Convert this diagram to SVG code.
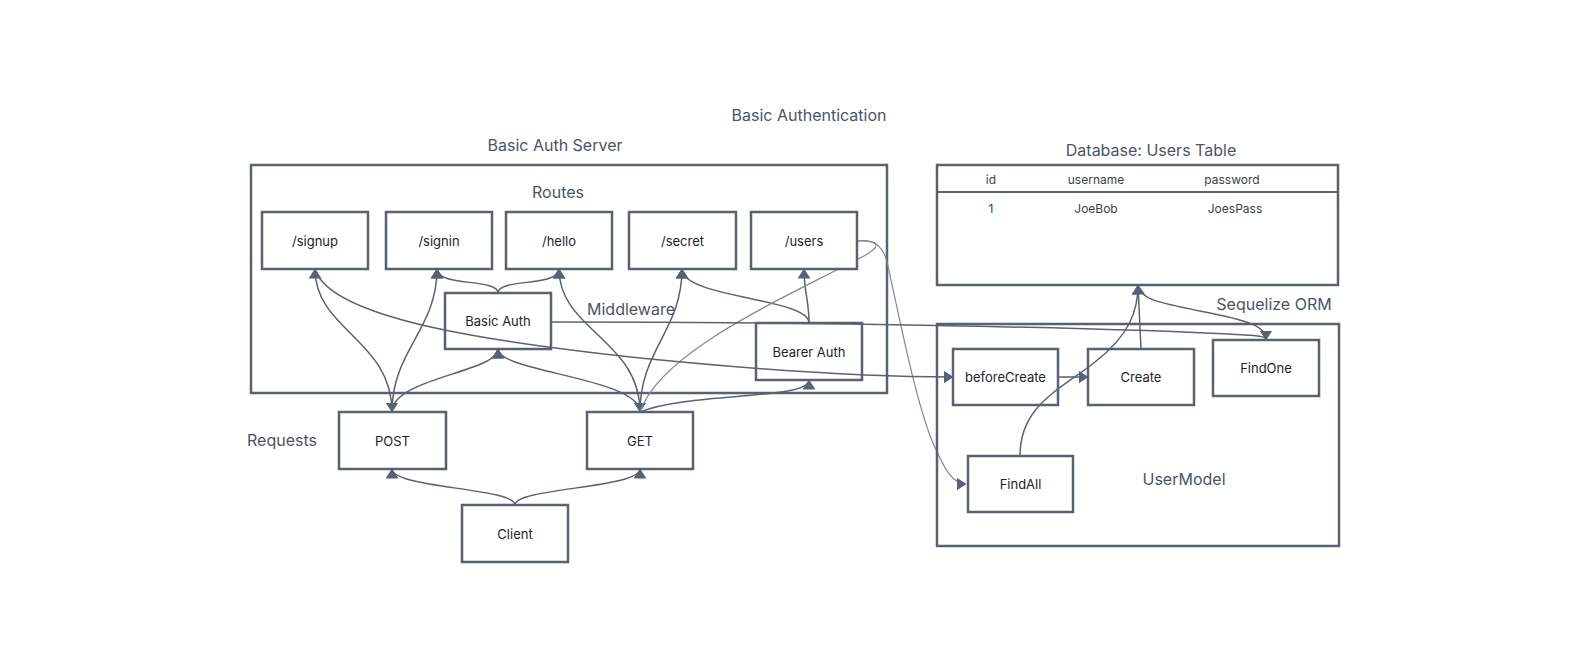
<svg xmlns="http://www.w3.org/2000/svg" width="1585" height="664" viewBox="0 0 1585 664">
<style>
  .box{fill:#fff;stroke:#596273;stroke-width:2.5}
  .cont{fill:none;stroke:#596273;stroke-width:2.5}
  .nt{font-family:Inter,"Liberation Sans",sans-serif;font-size:13px;fill:#1f2329;text-anchor:middle;dominant-baseline:central}
  .lbl{font-family:Inter,"Liberation Sans",sans-serif;font-size:16px;fill:#4b5467;text-anchor:middle;dominant-baseline:central}
  .tt{font-family:Inter,"Liberation Sans",sans-serif;font-size:12px;fill:#3a3f47;text-anchor:middle;dominant-baseline:central}
  .c{fill:none;stroke:#596273;stroke-width:1.5}
  .thin{fill:none;stroke:#80879a;stroke-width:1.2}
</style>
<defs>
  <marker id="ah" markerUnits="userSpaceOnUse" markerWidth="10" markerHeight="13" viewBox="0 0 10 13" refX="9.5" refY="6.5" orient="auto-start-reverse">
    <path d="M0,0 L10,6.5 L0,13 z" fill="#596273"/>
  </marker>
</defs>
<rect width="1585" height="664" fill="#fff"/>

<g id="labels">
  <text class="lbl" x="809" y="115">Basic Authentication</text>
  <text class="lbl" x="555" y="145">Basic Auth Server</text>
  <text class="lbl" x="558" y="192">Routes</text>
  <text class="lbl" x="631" y="309">Middleware</text>
  <text class="lbl" x="282" y="440">Requests</text>
  <text class="lbl" x="1151" y="150">Database: Users Table</text>
  <text class="lbl" x="1274" y="304">Sequelize ORM</text>
</g>

<g id="server">
  <rect class="cont" x="251" y="165" width="636" height="228"/>
</g>

<g id="connectors">
  <path class="c" d="M515,505 C515,488 392,488 392,469" marker-end="url(#ah)"/>
  <path class="c" d="M515,505 C515,488 640,488 640,469" marker-end="url(#ah)"/>
  <path class="c" d="M392,412 C392,340 315,330 315,269" marker-start="url(#ah)" marker-end="url(#ah)"/>
  <path class="c" d="M392,412 C392,350 437,330 437,269" marker-end="url(#ah)"/>
  <path class="c" d="M392,412 C392,378 498,372 498,349" marker-end="url(#ah)"/>
  <path class="c" d="M640,412 C640,378 498,372 498,349" marker-end="url(#ah)"/>
  <path class="c" d="M498,293 C498,278 437,287 437,269" marker-end="url(#ah)"/>
  <path class="c" d="M498,293 C498,278 559,287 559,269" marker-end="url(#ah)"/>
  <path class="c" d="M640,412 C640,340 559,330 559,269" marker-start="url(#ah)" marker-end="url(#ah)"/>
  <path class="c" d="M640,412 C640,350 682,330 682,269" marker-end="url(#ah)"/>
  <path class="c" d="M809,323 C809,298 682,298 682,269" marker-end="url(#ah)"/>
  <path class="c" d="M809,323 C809,300 804,292 804,269" marker-end="url(#ah)"/>
  <path class="c" d="M640,412 C690,392 809,400 809,380" marker-end="url(#ah)"/>
  <path class="thin" d="M640,412 C660,352 780,300 860,258 C882,247 882,240 857,241"/>
  <path class="thin" d="M857,241 C874,239 883,246 887,262 C898,310 915,400 933,443 C944,468 952,484 966,484" marker-end="url(#ah)"/>
  <path class="c" d="M551,322 C800,322 1100,327 1245,335 C1258,336 1266,336 1266,340"/>
  <path class="c" d="M315,269 C330,320 500,343 640,358 C760,370 870,377 953,377" marker-end="url(#ah)"/>
  <path class="c" d="M1058,377 L1088,377" marker-end="url(#ah)"/>
  <path class="c" d="M1141,349 L1138,285" marker-end="url(#ah)"/>
  <path class="c" d="M1020,456 C1020,405 1060,390 1095,362 C1130,335 1138,310 1138,285" marker-end="url(#ah)"/>
  <path class="c" d="M1138,285 C1140,300 1160,303 1210,313 C1255,322 1266,328 1266,340" marker-end="url(#ah)"/>
</g>

<g id="signup"><rect class="box" x="262" y="212" width="106" height="57"/><text class="nt" x="315" y="240.5">/signup</text></g>
<g id="signin"><rect class="box" x="386" y="212" width="106" height="57"/><text class="nt" x="439" y="240.5">/signin</text></g>
<g id="hello"><rect class="box" x="506" y="212" width="106" height="57"/><text class="nt" x="559" y="240.5">/hello</text></g>
<g id="secret"><rect class="box" x="629" y="212" width="107" height="57"/><text class="nt" x="682.5" y="240.5">/secret</text></g>
<g id="users"><rect class="box" x="751" y="212" width="106" height="57"/><text class="nt" x="804" y="240.5">/users</text></g>
<g id="basicauth"><rect class="box" x="445" y="293" width="106" height="56" fill-opacity="0"/><text class="nt" x="498" y="321">Basic Auth</text></g>
<g id="bearerauth"><rect class="box" x="756" y="323" width="106" height="57" fill-opacity="0"/><text class="nt" x="809" y="351.5">Bearer Auth</text></g>
<g id="post"><rect class="box" x="339" y="412" width="107" height="57"/><text class="nt" x="392.5" y="440.5">POST</text></g>
<g id="get"><rect class="box" x="587" y="412" width="106" height="57"/><text class="nt" x="640" y="440.5">GET</text></g>
<g id="client"><rect class="box" x="462" y="505" width="106" height="57"/><text class="nt" x="515" y="533.5">Client</text></g>

<g id="usersTable">
  <rect class="cont" x="937" y="165" width="401" height="120"/>
  <line x1="937" y1="192" x2="1338" y2="192" stroke="#596273" stroke-width="2"/>
  <text class="tt" x="991" y="179">id</text>
  <text class="tt" x="1096" y="179">username</text>
  <text class="tt" x="1232" y="179">password</text>
  <text class="tt" x="991" y="208">1</text>
  <text class="tt" x="1096" y="208">JoeBob</text>
  <text class="tt" x="1235" y="208">JoesPass</text>
</g>

<g id="userModel">
  <rect class="cont" x="937" y="324" width="402" height="222"/>
  <text class="lbl" x="1184" y="479">UserModel</text>
</g>
<g id="beforeCreate"><rect class="box" x="953" y="349" width="105" height="56" fill-opacity="0"/><text class="nt" x="1005.5" y="377">beforeCreate</text></g>
<g id="create"><rect class="box" x="1088" y="349" width="106" height="56" fill-opacity="0"/><text class="nt" x="1141" y="377">Create</text></g>
<g id="findOne"><rect class="box" x="1213" y="340" width="106" height="56"/><text class="nt" x="1266" y="368">FindOne</text></g>
<g id="findAll"><rect class="box" x="968" y="456" width="105" height="56" fill-opacity="0"/><text class="nt" x="1020.5" y="484">FindAll</text></g>
</svg>
